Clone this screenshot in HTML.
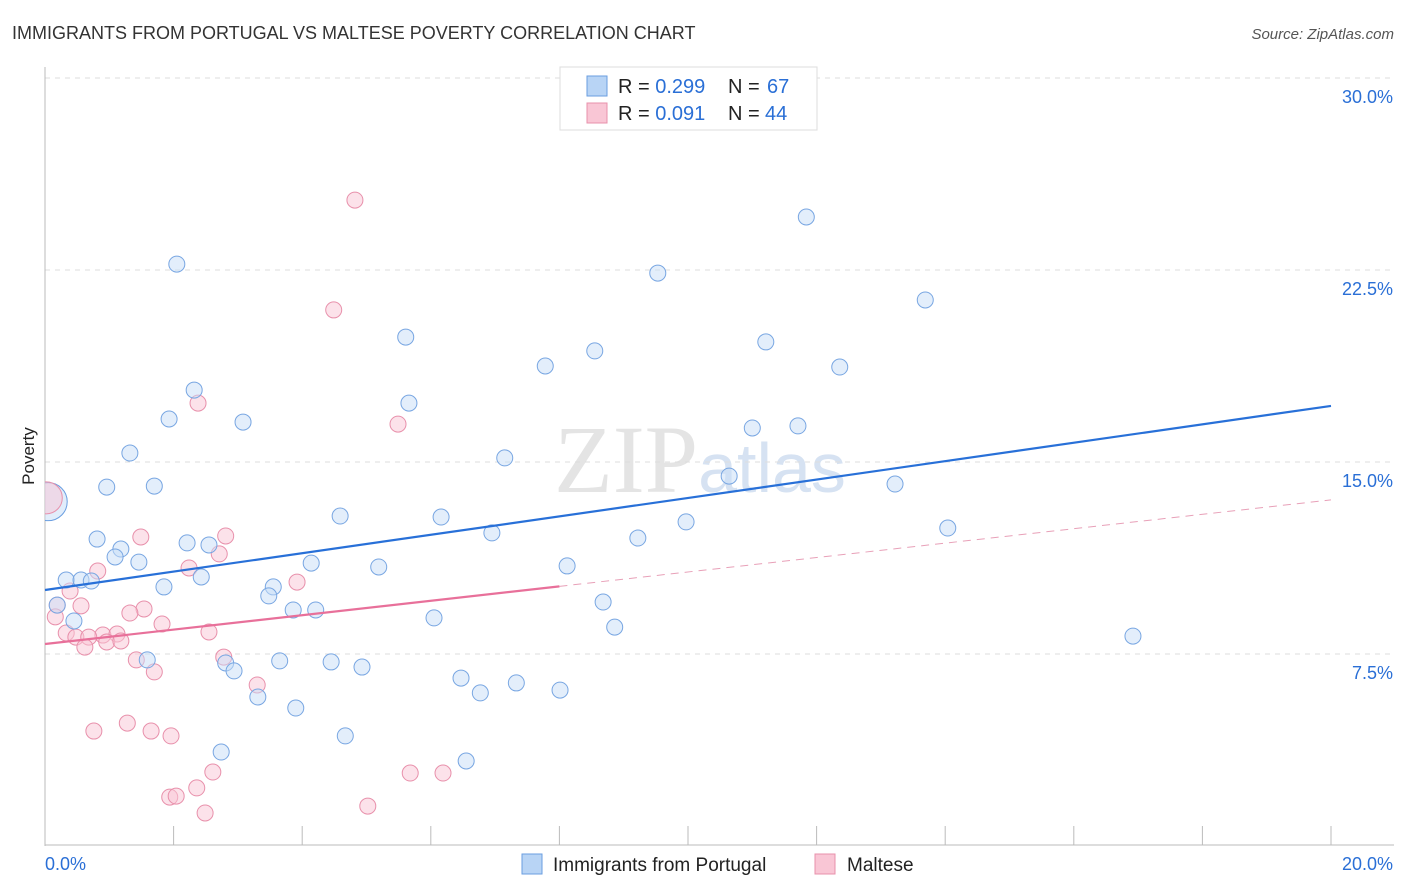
<!DOCTYPE html>
<html><head><meta charset="utf-8"><style>
body{margin:0;background:#fff;font-family:"Liberation Sans",sans-serif}
svg{display:block}
</style></head><body>
<svg width="1406" height="892" id="c">
<defs><clipPath id="pa"><rect x="45" y="60" width="1350" height="786"/></clipPath></defs>
<text x="12" y="39" font-size="18" fill="#333">IMMIGRANTS FROM PORTUGAL VS MALTESE POVERTY CORRELATION CHART</text>
<text x="1394" y="39" font-size="15" fill="#555" font-style="italic" text-anchor="end">Source: ZipAtlas.com</text>
<text x="700" y="492" font-size="96" fill="#e4e4e4" text-anchor="middle" font-family="Liberation Serif,serif">ZIP<tspan fill="#d6e2f2" font-family="Liberation Sans,sans-serif" font-size="70">atlas</tspan></text>
<g id="grid"></g>
<g id="axes"></g>
<g id="pts" clip-path="url(#pa)"></g>
<g id="lines"></g>
<text x="34" y="456" font-size="17" fill="#222" text-anchor="middle" transform="rotate(-90 34 456)">Poverty</text>
<g>
<rect x="560" y="67" width="257" height="63" fill="#fff" stroke="#ddd"/>
<rect x="587" y="76" width="20" height="20" fill="#b8d4f5" stroke="#6a9ee0"/>
<rect x="587" y="103" width="20" height="20" fill="#f9c6d5" stroke="#e890ab"/>
<text x="618" y="93" font-size="20" fill="#222">R = <tspan fill="#2a6fd6">0.299</tspan><tspan x="728">N = </tspan><tspan x="767" fill="#2a6fd6">67</tspan></text>
<text x="618" y="120" font-size="20" fill="#222">R = <tspan fill="#2a6fd6">0.091</tspan><tspan x="728">N = </tspan><tspan x="765" fill="#2a6fd6">44</tspan></text>
</g>
<g>
<rect x="522" y="854" width="20" height="20" fill="#b8d4f5" stroke="#6a9ee0"/>
<text x="553" y="871" font-size="19" fill="#222">Immigrants from Portugal</text>
<rect x="815" y="854" width="20" height="20" fill="#f9c6d5" stroke="#e890ab"/>
<text x="847" y="871" font-size="19" fill="#222">Maltese</text>
</g>
</svg>
<script>
const yTicks=[7.5,15,22.5,30];
const xTickLabels=["0.0%","20.0%"];
const blueX=[2.05,9.53,11.84,13.69,5.61,8.55,11.21,7.78,12.36,2.32,5.66,1.93,3.08,11.00,11.71,7.15,1.32,0.96,1.70,10.64,13.22,4.59,6.16,9.97,14.04,0.81,6.95,9.22,2.21,2.55,1.18,1.09,1.46,4.14,5.19,8.12,0.33,0.56,0.72,2.43,1.85,3.55,3.48,0.19,3.86,4.21,8.68,6.05,0.45,8.86,1.59,3.65,4.45,2.81,2.94,4.93,6.47,7.33,6.77,8.01,3.31,3.90,4.67,2.74,6.55,16.92];
const blueY=[22.73,22.38,24.57,21.33,19.88,19.34,19.69,18.75,18.71,17.81,17.30,16.68,16.56,16.33,16.41,15.16,15.35,14.02,14.06,14.45,14.14,12.89,12.85,12.66,12.42,11.99,12.23,12.03,11.84,11.76,11.60,11.29,11.09,11.05,10.90,10.94,10.39,10.39,10.35,10.51,10.12,10.12,9.77,9.41,9.22,9.22,9.53,8.91,8.79,8.55,7.27,7.23,7.19,7.15,6.84,6.99,6.56,6.37,5.98,6.09,5.82,5.39,4.30,3.67,3.32,8.20];
const pinkX=[4.82,4.49,2.38,5.49,1.49,2.81,2.71,2.24,0.82,3.92,0.39,0.19,0.56,1.54,1.32,0.16,1.82,0.33,2.55,0.48,0.90,1.12,0.68,0.96,1.18,0.62,1.42,2.78,1.70,3.30,1.28,0.76,1.65,1.96,2.61,5.68,6.19,2.36,1.94,2.04,5.02,2.49];
const pinkY=[25.23,20.94,17.30,16.48,12.07,12.11,11.41,10.86,10.74,10.31,9.96,9.41,9.38,9.26,9.10,8.95,8.67,8.32,8.36,8.16,8.24,8.28,8.16,7.97,8.01,7.77,7.27,7.38,6.80,6.29,4.80,4.49,4.49,4.30,2.89,2.85,2.85,2.27,1.91,1.95,1.56,1.29];
const bigX=[0.05,0.02];
const bigY=[13.45,13.6];
const blueFit=[10.0,17.19];
const pinkFit=[7.89,13.52];
const pinkSolidEnd=[8];
const X=v=>45+v*64.3, Y=v=>846-v*25.6;
const NS="http://www.w3.org/2000/svg";
function mk(t,a,p){const e=document.createElementNS(NS,t);for(const k in a)e.setAttribute(k,a[k]);p.appendChild(e);return e;}
const g=document.getElementById('grid'),ax=document.getElementById('axes'),pts=document.getElementById('pts'),ln=document.getElementById('lines');
yTicks.forEach(t=>{const l=mk('line',{x1:45,x2:1394,y1:Y(t),y2:Y(t),stroke:'#ddd','stroke-dasharray':'5,5'},g);


const tx=mk('text',{x:1393,y:Y(t)+25,'font-size':18,fill:'#2a6fd6','text-anchor':'end'},g);tx.textContent=t.toFixed(1)+'%';

});
const ya=mk('line',{x1:45,x2:45,y1:67,y2:846,stroke:'#bbb'},ax);


const xa=mk('line',{x1:45,x2:1394,y1:845,y2:845,stroke:'#bbb'},ax);


for(let i=1;i<=10;i++){const t=mk('line',{x1:X(i*2),x2:X(i*2),y1:826,y2:845,stroke:'#bbb'},ax);

}
const l0=mk('text',{x:45,y:870,'font-size':18,fill:'#2a6fd6'},ax);l0.textContent=xTickLabels[0];


const l1=mk('text',{x:1393,y:870,'font-size':18,fill:'#2a6fd6','text-anchor':'end'},ax);l1.textContent=xTickLabels[1];


function dot(x,y,r,f,s,name){const c=mk('circle',{cx:X(x),cy:Y(y),r:r,fill:f,'fill-opacity':0.5,stroke:s,'stroke-width':1},pts);

}
dot(bigX[0],bigY[0],19,'#c4dbf7','#6a9ee0','portugal-point-large');
dot(bigX[1],bigY[1],16,'#f9c6d5','#e890ab','maltese-point-large');
pinkX.forEach((x,i)=>dot(x,pinkY[i],8,'#f9c6d5','#e890ab','maltese-point'));
blueX.forEach((x,i)=>dot(x,blueY[i],8,'#c8ddf7','#78a6e2','portugal-point'));
const bl=mk('line',{x1:X(0),y1:Y(blueFit[0]),x2:X(20),y2:Y(blueFit[1]),stroke:'#2870d8','stroke-width':2.2},ln);


const pe=pinkFit[0]+(pinkFit[1]-pinkFit[0])*pinkSolidEnd[0]/20;
const pl=mk('line',{x1:X(0),y1:Y(pinkFit[0]),x2:X(pinkSolidEnd[0]),y2:Y(pe),stroke:'#e8709a','stroke-width':2.2},ln);


const pd=mk('line',{x1:X(pinkSolidEnd[0]),y1:Y(pe),x2:X(20),y2:Y(pinkFit[1]),stroke:'#e8a0b8','stroke-width':1,'stroke-dasharray':'8,6'},ln);


</script>
</body></html>
